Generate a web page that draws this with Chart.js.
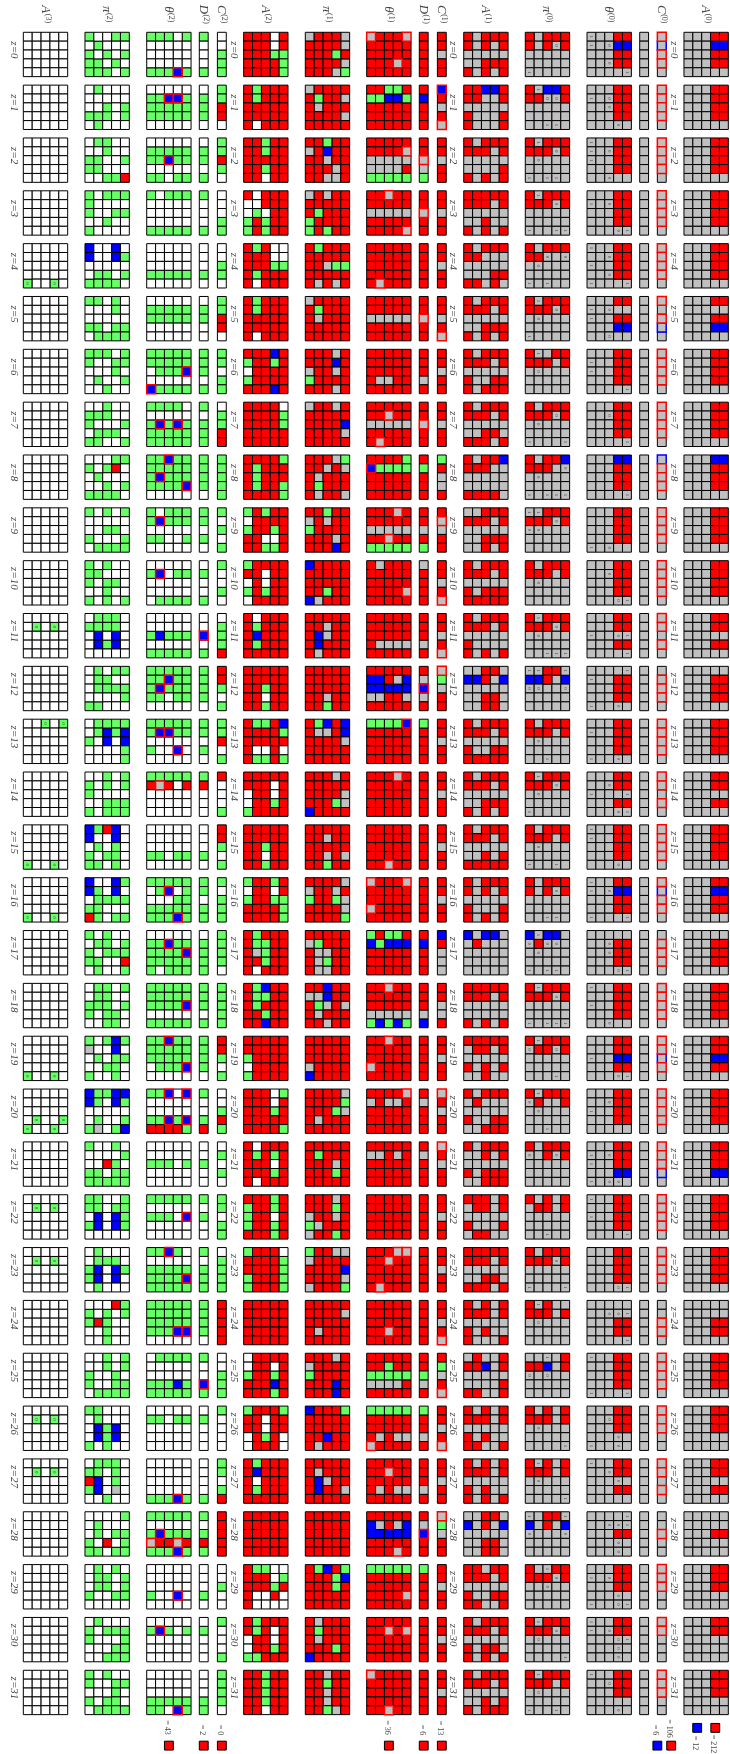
<!DOCTYPE html>
<html>
<head>
<meta charset="utf-8">
<title>z grid</title>
<script src="https://cdn.jsdelivr.net/npm/chart.js@4/dist/chart.umd.min.js"></script>
<style>
  body { margin: 0; background: #fff; }
  canvas { display: block; }
</style>
</head>
<body>
<canvas id="grid" width="730" height="1754"></canvas>
<script>
// w white, g green, r red, s gray, b blue, 0/1 gray with digit, z green with digit
// S and B have a red outline, x is gray with a blue outline
const A3 = [
  "wwwww wwwww wwwww wwwww wwwww","wwwww wwwww wwwww wwwww wwwww","wwwww wwwww wwwww wwwww wwwww","wwwww wwwww wwwww wwwww wwwww",
  "wwwww wwwww wwwww wwwww zwwzw","wwwww wwwww wwwww wwwww wwwww","wwwww wwwww wwwww wwwww wwwww","wwwww wwwww wwwww wwwww wwwww",
  "wwwww wwwww wwwww wwwww wwwww","wwwww wwwww wwwww wwwww wwwww","wwwww wwwww wwwww wwwww wwwww","wwwww wzwzw wwwww wwwww wwwww",
  "wwwww wwwww wwwww wwwww wwwww","wwzwz wwwww wwwww wwwww wwwww","wwwww wwwww wwwww wwwww wwwww","wwwww wwwww wwwww wwwww zwwzw",
  "wwwww wwwww wwwww wwwww zwwzw","wwwww wwwww wwwww wwwww wwwww","wwwww wwwww wwwww wwwww wwwww","wwwww wwwww wwwww wwwww zwwzw",
  "wwwww wwwww wwwww wzwwz zwwzw","wwwww wwwww wwwww wwwww wwwww","wwwww wzwzw wwwww wwwww wwwww","wwwww wzwzw wwwww wwwww wwwww",
  "wwwww wwwww wwwww wwwww wwwww","wwwww wwwww wwwww wwwww wwwww","wwwww wzwzw wwwww wwwww wwwww","wwwww wzwzw wwwww wwwww wwwww",
  "wwwww wwwww wwwww wwwww wwwww","wwwww wwwww wwwww wwwww wwwww","wwwww wwwww wwwww wwwww wwwww","wwwww wwwww wwwww wwwww wwwww"
];
const pi2 = [
  "gwwgg wgwww gwgwg ggwgw gggwg","wgwww wwwww wwgwg gggwg wgwww","wggww wwgww ggwwg ggwww wwggr","gwggg gwwww gwwgg wwgww gwwww",
  "bwwbw bwwbg wwwww wggwg ggggw","ggwgw wwwgw wwwww ggwgg wgggg","gggwg gwwgg wwwgw wgwwg wwgww","wwgww gggww gwwwg wgggw ggwwg",
  "wwwgg gwgrw wgwww wwgwg ggggw","gwgwg wwwww wwggw gwwwg wgggg","gwgww ggwww gwggw wwgww gwgwg","wgggw ggggw wbwbw wbgbw wwwww",
  "wgwgg wggww wgggg wwwwg ggwww","wgggg wgbgb gwbwb wwwwg wwwwg","wwgwg gwgwg gwwww wwggg gwggg","bgrbw bwwbw wgwgw gwggw ggwgw",
  "bwwbg bgwbw wgggg ggwww rgwgg","gwgww wggwg gwggg ggwwr wgwwg","wggwg wggww gggwg gwggw wwggw","gwgbg swwbw wgwgg wwggw gwwgw",
  "bggbb bgwbg wwwww wgwwg gswgb","gwwgw wwwwg wwrgw ggwgg ggggg","ggwwg ggwgg wbwbg gbwbg wwwww","wgwww wgggw gbwbg gbwbw wgwww",
  "wwwrg gwgwg grgww wwgww wwgww","wwgwg wwgwg gwwgw gwwgg wgggg","ggwww wgwww wbgbw wbgbw gwgww","wgggw ggwgw rbwgw gbwsw wwgww",
  "wwwwg wgwww wgwgg gwrwg ggwgg","wgwgw wggwg wggwg gwwgg wwwww","wgwww gwggg gwwwg wwwgg wwggg","gwgww gwwgg wwwgw gwggw wgggg"
];
const theta2 = [
  "gggwg wwwww wwwww wwwww gggBg","wwwww ggBBg ggggg ggggg wwwww","wwwww ggggg ggBgg wwwww ggwgg","gwggg wwwww wwwww wwwww ggggg",
  "wwwww wwwww wwwww ggggg wwwww","wwwww ggggg ggggg wwwww wwwww","ggggg ggggg wgggB wwwww Bgggg","ggggw wwwww gBgBg ggggg ggggg",
  "ggBgg ggggg gBggg ggggB wwwww","gwggg gBggg wwwww ggwwg wwwww","wwwww gBwgg wwwww wwwww wgggg","wwwww wwwww gbggg wwwww ggggg",
  "ggggg ggBgg gBggg ggwgg wwwww","ggggg gBBgg wwwww gwwBw wwwww","ggggg rSrwr wwwww wwwww wwwww","wwwww wwwww wwwww ggwgg wwwww",
  "ggggg wgBwg wwwgg ggggg gggBg","wwwww ggBgg ggggB ggggg gwggg","ggggg ggggg ggggB wwwww ggggg","ggBgg ggggg ggggg wgggB wwwww",
  "ggBwB wwwww wwwww ggBgB rrrrg","wwwww wwwww gggwg wwwww wwwww","ggggg wwwww gggwB wwwww wwwww","ggBgw wwwww ggggg ggggB ggggg",
  "ggggg ggggg ggggg gggBB wwwww","wgggg wwwww wwwww gggbg ggggg","wwwww ggwgg wwwww wwwww wwwww","wwwww wwwww wwwww wwwww gggBg",
  "ggggg wwwww gBggg SrrSr gggBg","wwwww wwwww wwwww gwwBw wwwww","wwwww gBgwg wwwww wwwww wwwww","wwwww wwwww wwwww ggggg ggwBg"
];
const D2 = [
  "gwwwg","wgggw","wggwg","gwwwg","wwwgw","wggww","gggwg","gwggg",
  "ggggw","ggwgw","wgwwg","wwBwg","ggggw","ggwgw","grwww","wwwgw",
  "ggwgg","wgggg","gggwg","ggggw","gwwgr","wwgww","gwgww","gwggg",
  "ggggw","gwwBg","wgwww","wwwwg","gwgrg","wwwgw","wgwww","wwwgg"
];
const C2 = [
  "wwggg","ggrrw","ggrgw","wwwgg","wwggw","ggrrw","ggwgg","wggrr",
  "ggggg","gwgwg","gwwgw","wgggr","rrgwg","ggrwg","rwwwg","rrgwg",
  "gwggg","ggggw","ggggg","rrgwg","wwgrg","wgwgw","ggwgg","wgggg",
  "rrrrr","wwggg","gwwww","ggwgr","rrrrr","wwgww","gwwwg","ggggw"
];
const A2 = [
  "rrrwr rrrwr rrrgg rrrrg rrrrg","rgrrr rgrrr rrrrr rrrrr rwrrr","rrgrr rrgrr rrrrr rrgrr rrwrr","rwrrr wwrrr wgwrr grgrr grgrr",
  "rgrww rrrww rrrgg rgrrr rwrrr","rgrrr rgrrr rrrrr rrrrr rwrrr","rrrbr grrgr wrrrr grrrr rrrbr","rrrrw rrrrg rrrrg rrrrr rrrrr",
  "rrrrg rgrrr rgrrr rgrrg rrrrg","grgrr wrrrr grrgr rrwwr rrggr","grrrr rrwrr wrwrr grgrr wrrrr","rwrrr rgrrr rbrrr rgrrr rrrrr",
  "rrrrr rrrrr rrgrr rrwrr rrgrr","rggrb rrrrg rrrrr rwwrw rggrg","rrrrr rrrwr wrrwr wrrgr grrrr","rrrrr rrrrr rrgrr rrwrr rrgrr",
  "grrgr wrrwr grrgg rrrrg rrrrg","rgrrr rggrr rsgrr rrgrr rwrrr","rgbrr rggrr rgrrr rrgrr rrbrr","rrrrr rrrrr grrrr wrrrr grrrr",
  "rrrwg rrrwr rrrgr rrrrr rrrrg","rwrrr rgrgr rrrwr rrrgr rwrrr","rrrgr grrgr grrwr grrgr rrrgr","grrrw rrrrg rrrrg grrrg grrrg",
  "rrrrr rrrrr rrrrr rrrrr rrrrr","wrrrr wrrwr grrgr rrrbr rrrgr","grrrg rrwrr rrwrr wrgrw wrrrw","rgrrr rbrrr rwrrr rgrrr rrrrr",
  "rrrrr rrrrr rrrrr rrrrr rrrrr","rggww rrrwg rrrgr rwwrw rwwww","rgrrr rgrwr wrrwr wrrgr ggrrr","rrgrr rrgrr rrgrr rrgrr rrwrr"
];
const pi1 = [
  "srrrs rrrrs rrrgr rrrrs rrrsg","srrrr rgrrs rsrrr rrrrs rrrrr","rrgrr srbrr rrsrr rrrsr rrssr","srsrr rrrrr rgrrr grrrr grgrr",
  "rgrrr rrrrr rrsgg rrrrr rsrsr","srrrr rgrrr rsrrr rrrrr rrrrr","rrrsr rrrbr srrsr grrrr rrrsr","srrsr rrrrr rrrrb rrrrs rrrrr",
  "rrrsg rrsrs rsrrr rgrrr rsrrs","rrgrr srsrr grrrr rrrsr rrrbr","brrrr rrrrr rrrrr rrgrr bsrrr","rrrrr rrsrr rbsrr rbrrr rsrrr",
  "rrrrr rrrrr rrrrr rrsrr rrgrr","rgbrb rssrb rrrrs rrrrr rrrrr","rrrsr rrrrr rrrrs rrrgs brrrr","rrrrr rrsrr rrrrr rrsrs rrgrr",
  "rrrrs srrsr grrgs rrrrs rrrrg","rrrrr sgrrr rssrr rsgrr rssrr","rrbrr ssbrr rgsrs rsrrr rrsrr","rrrrr rrrrr rrrrr srrrr brrrr",
  "rrrrs rrrrg rrrgs rsrrr rrrrr","rrrrr rgrrr rrrsr rrrgr rrrrr","rrrsr rrrgr srrsr gsrrr srrgr","grrss srrrr rrrrb rrrrs srrrg",
  "rrrrr rrrrs rrrrr rsrrr rrrrr","rrrsr srrrr grrrr rrrbr rrrbr","brrrg rrrrr rrrrr rrbrr rsrrr","rrrrr rsrrr rbsrr rbrrs rrrrr",
  "rrrrr rrrrr rrrrr rrrrr rrrrr","rgbrg rrrgb rrrgr rrrrr rrrrr","rsrrr rgrrr rsrrr rrrgr brrrr","rrsrr rrgrr rrsrr rrsrr rrgsr"
];
const theta1 = [
  "SrrrS rrrrr rrrrr rrrSr rrrrr","rrggr ggbbg rrrrr rrrrr rrrrr","rrrrr rrrrS sssss ssssr ggggg","rrSrr rrrrr sssss rrrrr rrrrS",
  "rrrrr rrrrr rrrrr rrrrr rSrrr","rrrrr rrrrr sssss rrrrr rrrrr","rrrrr rrrrr rrrrr rssrr rrrrr","rrrrr rrSrr sssss rrrrr rSrrr",
  "rrrrg Bgggg rrrrr rrrrr rrrrr","rrrSr rrrrr sssss rrSrr ggggg","rsrrr rrrrr rrrrr rrrrS rrrrr","rrrrr rrrrr rrrrr rssss rrrrr",
  "rrrrr bbrsb bbbbb ssrrs rrrrr","ggggB rrrrr rrrrr rrrrr rrrrr","rrrSr rrrrr rrrrr rrrrr rrrrr","rrrrr rrrrr rrrrr rrrrr rrSrr",
  "SrrrS rrrrr rrrrr Srrrr rrrrr","grggr bgbbb rrrrr rrrrr rrrrr","rrSrr rrrrr rrrrr sssss gbgbg","rrSrr rrrrr rrrrr Srrrr rrrrr",
  "rrrrS srssr rrrrr rrrrr rrrrr","rrrrr ssrsr rrrrr rrrrr rrrrr","rrrrr rrrrr rrrrr rrrrr rrrrr","rrrSS rrSrr rrrrr rrrrr rSrrr",
  "rrrrr rrrrr rrrrr rrSrr rrrrr","rrrrr rrgrr ggggg ssssr rrrrr","ggggg rrrrr rrrrr rsrss Srrrr","rrrrr rrSrr rrrrr rsrss rrrrr",
  "rrrrr bsrsb bbbbb rrrrr rrrSr","ggggg rrrrr rrrrr rrrrS rrrrr","rrrrr rrSrS rrrrr rrrrr rrrrr","Srrrr rrrrr rrrrr rrrrr rrSrr"
];
const D1 = [
  "rrrrr","rbrrr","rrSsg","rrSrr","rrrrr","rrSrr","rrrsr","rrSrr",
  "rgrrr","rrsrg","srrrr","rrrsr","rsBsr","grrrr","rrrrr","rrrrr",
  "rrrrr","rbrrr","rrrsb","rrrrr","rsrrr","rsrrr","rrrrr","rrrrr",
  "rrrrr","rrgsr","grrsr","rrrsr","rsBrr","grrrr","rrrrr","rrrrr"
];
const C1 = [
  "rrsrr","BrsrS","rrsrr","rrsrr","rrsrr","rrsrS","rrsrr","rrsrr",
  "grssr","rSsrr","rrsrS","rrsrS","Sgsrr","rrsrr","rrsrr","rrsrr",
  "rrsrr","brsss","rrssr","rrsrr","Srsrr","Srsrr","rrsrr","rrsrr",
  "rrsrS","rgsrS","rrsrS","rrsrr","Sgsrr","rrsrr","rrsrr","rrsrr"
];
const A1 = [
  "rsrrr rsrsr sssss ssrrr rsrsr","rrbbr rrssr sssss rsssr rsssr","rsrrr rrrsr sssss ssssr rsrsr","rrrrr rrrsr sssss ssrss rsrsr",
  "rsrrr rrsss sssss sssrr rrsrs","rsrrr rrrsr sssss ssrrr rsrsr","rsrrr rrrsr sssss rssrr rsrrr","rsrrr rrrsr sssss ssrrs rrrsr",
  "rsrrb rrrss sssss sssss rrrrs","ssrrr rrrsr sssss ssrrr ssrsr","rsrrr rrrsr sssss rsrrr rrrrr","rsrrr rrrsr sssss rssss rsrsr",
  "ssrrs bbrsb sssss ssrrs ssrrs","rsrrr rrrsr sssss rssrr rrrrr","rsrrr rrrsr sssss ssrrr rsrsr","rsrrr rrrsr sssss ssrsr rrrrr",
  "rsrrr rsrsr sssss rsssr rsrsr","bsbbs srsss sssss sssss sssss","rrrrr rrrsr sssss sssss rsrsr","rrrrr srrsr sssss rsrsr ssrss",
  "rsrrr srsss sssss rssrr ssrrr","rsrrr ssrsr sssss rsrrr ssrrr","rrrsr srrsr sssss rsssr srrss","rrrrr rrrsr sssss ssrrs rrrsr",
  "rsrsr rrrsr sssss rsrss rsssr","srssr rrbsr sssss ssssr rrssr","rsrsr rrrsr sssss rsrss rrssr","rsrsr rrrsr sssss rsrss rsrsr",
  "ssrrs bsrsb sssss ssrrs ssrrs","rrsrr rrrsr sssss rssrr rrssr","rsrrr rrrsr sssss rsrrs rsrsr","rsrrr rrrsr sssss ssrsr rsrrr"
];
const pi0 = [
  "rsrrr rsr0r sssss sssss 1ssss","r1bbr rr00r sssss sssss ss11s","r1rrr rrr0r s0sss sssss 1s11s","r1rrr rrr0r sssss sssss 1ss11",
  "rsrrr rr0s0 s0sss sssss 1s1ss","r1rrr rrr0r s0sss sssss 1ssss","r1srr rrrsr s0sss sssss sssss","rsrrr rrr0r s0sss sssss 1sss1",
  "rsrrb rrrs0 s0sss sssss 1s111","11rrr rrr0r 00sss sssss sssss","rsrrr rrrsr s0sss sssss sssss","r1rrr rrr0r s0sss sssss ss111",
  "11rr1 bbrsb 00ss0 sssss sssss","rsrrr rrrsr s0sss sssss ss1ss","r1rrr rrr0r s0sss sssss 1ssss","rsrrr rrrsr s0sss sssss 1ss1s",
  "rsrrr rsr0r sssss sssss ss11s","b1bbs 0r00s s0sss sssss 1s11s","r1rrr rrr0r sssss sssss 1s111","r1rrr 0rr0r sssss sssss sss1s",
  "r1rrr 0rssr s0sss sssss ss1ss","rsrrr 0sr0r sssss sssss sssss","rsrsr srrsr sssss sssss ss1ss","rsrrr rrr0r sssss sssss 1sss1",
  "r1rss rrrsr s0sss sssss sssss","ss1sr rrbsr 0s0ss sssss sssss","rsrsr rrrsr s0sss sssss ssss1","r1rsr rrrsr s0sss sssss ssss1",
  "1srr1 bsrsb 0sss0 sssss sssss","rs1rr rrr0r ss0ss sssss sssss","r1rrr rrr0r s0sss sssss ssss1","r1rrr rrrsr s0sss sssss 1ss1s"
];
const theta0 = [
  "1ssrr 1s0bb sssrr ss0rr ssss1","sssrr 1s0rr ss0rr sssrr sss0s","1ssrr 1s0rr 1ssrr sssrr ss0ss","sssrr 1s0rr sssrr sssrr sss01",
  "1ssrr ss0rr 1ssrr ss0rr 1sss1","sssrr 1s0ss 1ssrr sssbb ss0ss","sssrr 1ssrr 1ssrr sssrr ssss1","sssrr ss0rr sssrr sssrr ssss1",
  "sssbb sssrr sssrr sssrr ssss1","sssrr sssrr sssrr sssrr 1s0ss","sssrr ss0rr sssrr sssrr sss01","sssrr sssrr 1ss01 sssrr ssss1",
  "ssss1 1ssrr sssrr sssrr 1ss0s","sssrr 1ssrr sssrr sssrr 1ss0s","sssrr ss0rr 1sss1 sssrr sss01","1ssrr 1ssrr sssrr sssrr sss0s",
  "1ssrr 1s0bb sssrr sssrr 1sss1","sssss ss0rr ss0rr sssrr sss01","1ssrr sssrr 1ssrr sssrr ss0ss","sssrr sssrr 1ssbb sssrr sss01",
  "sssrr ss0rr 1ssrr sssrr sssss","sssrr 1s0rr 1ssrr sssbb 1s00s","1ssrr sssrr 1ssrr sssrr ssss1","sssrr sssrr sssrr sssrr sss01",
  "sssss ss001 sssrr sssrr ssss1","1ssrr sssrr sssrr sssrr 1sss1","sssrr ss0rr sssrr sss0s 1ss0s","1ssrr ss0rr sss0s sssrr sssss",
  "ssss1 ss001 sssrr sss0s sss0s","sssrr 1s0rr sssrr sss0s 1ss01","1ssrr 1s0rr sss01 sss0s sss0s","1ssrr ss0rr sssrr sssss sss0s"
];
const D0 = [
  "sssss","sssss","sssss","sssss","sssss","sssss","sssss","sssss",
  "sssss","sssss","sssss","sssss","sssss","sssss","sssss","sssss",
  "sssss","sssss","sssss","sssss","sssss","sssss","sssss","sssss",
  "sssss","sssss","sssss","sssss","sssss","sssss","sssss","sssss"
];
const C0 = [
  "SxSSs","SSSSs","SSSSs","SSSSs","SSSSs","SsSxs","SSSSs","SSSSs",
  "xSSSs","SSSSs","SSSSs","SSsSs","sSSSs","SSSSs","SSsSs","SSSSs",
  "SxSSs","sSSSs","SSSSs","SSxSs","SSSSs","SSSxs","SSSSs","SSSSs",
  "ssSSs","SSSSs","SSSss","SSsSs","ssSss","SSSss","SSsss","SSSss"
];
const A0 = [
  "sssrr sssbb sssrr sssrr sssss","sssrr sssrr sssrr sssrr sssss","sssrr sssrr sssrr sssrr sssss","sssrr sssrr sssrr sssrr sssss",
  "sssrr sssrr sssrr sssrr sssss","sssrr sssss sssrr sssbb sssss","sssrr sssrr sssrr sssrr sssss","sssrr sssrr sssrr sssrr sssss",
  "sssbb sssrr sssrr sssrr sssss","sssrr sssrr sssrr sssrr sssss","sssrr sssrr sssrr sssrr sssss","sssrr sssrr sssss sssrr sssss",
  "sssss sssrr sssrr sssrr sssss","sssrr sssrr sssrr sssrr sssss","sssrr sssrr sssss sssrr sssss","sssrr sssrr sssrr sssrr sssss",
  "sssrr sssbb sssrr sssrr sssss","sssss sssrr sssrr sssrr sssss","sssrr sssrr sssrr sssrr sssss","sssrr sssrr sssbb sssrr sssss",
  "sssrr sssrr sssrr sssrr sssss","sssrr sssrr sssrr sssbb sssss","sssrr sssrr sssrr sssrr sssss","sssrr sssrr sssrr sssrr sssss",
  "sssss sssss sssrr sssrr sssss","sssrr sssrr sssrr sssrr sssss","sssrr sssrr sssrr sssss sssss","sssrr sssrr sssss sssrr sssss",
  "sssss sssss sssrr sssss sssss","sssrr sssrr sssrr sssss sssss","sssrr sssrr sssss sssss sssss","sssrr sssrr sssrr sssss sssss"
];

const panelGrids = [A3, pi2, theta2, D2, C2, A2, pi1, theta1, D1, C1, A1, pi0, theta0, D0, C0, A0];
const panelNames = ["A", "π", "θ", "D", "C", "A", "π", "θ", "D", "C", "A", "π", "θ", "", "C", "A"];
const panelSups = ["(3)", "(2)", "(2)", "(2)", "(2)", "(2)", "(1)", "(1)", "(1)", "(1)", "(1)", "(0)", "(0)", "", "(0)", "(0)"];

const legendPanels = [2, 3, 4, 7, 8, 9, 14, 14, 15, 15];
const legendTexts = ["= 43", "= 2", "= 0", "= 36", "= 6", "= 13", "= 6", "= 106", "= 12", "= 212"];
const legendKinds = ["r", "r", "r", "r", "r", "r", "b", "r", "b", "r"];

// layout, in cells (one cell = 8.87 px)
const CELL = 8.87;
const panelX = [2.63, 9.58, 16.54, 22.47, 24.51, 27.47, 34.42, 41.34, 47.27, 49.31, 52.28, 59.22, 66.18, 72.12, 74.11, 77.11];
const zLabelX = [1.58, 26.38, 51.07, 75.98];
const Y0 = 3.64, ZSTEP = 5.957;
const legendDx = [2.5, 0.5, 0.5, 2.5, 0.5, 0.5, 0, 1.56, 1.49, 3.53];
const legendY = [196.8, 196.8, 196.8, 196.8, 196.8, 196.8, 196.8, 196.8, 194.8, 194.8];
const legendTextY = [1727.5, 1730, 1730, 1727.5, 1730, 1728, 1730, 1728.5, 1743, 1744];

const fills = { w: "#ffffff", g: "#66ff66", r: "#ff0000", s: "#c0c0c0", b: "#0000ff", S: "#c0c0c0", B: "#0000ff", x: "#c0c0c0" };
const outlines = { S: "#ff0000", B: "#ff0000", x: "#0000ff" };

// sort all the cells by kind, digits go on top as text afterwards
const buckets = {};
Object.keys(fills).forEach(k => buckets[k] = []);
const digits = [];
panelGrids.forEach((grid, p) => {
  grid.forEach((cells, z) => {
    const rows = cells.split(" ");
    const narrow = rows.length === 1;
    rows.forEach((row, r) => {
      [...row].forEach((ch, c) => {
        const pt = {
          x: panelX[p] + (narrow ? 0 : c) + 0.5,
          y: Y0 + ZSTEP * z + (narrow ? c : r) + 0.5
        };
        let kind = ch;
        if (ch === "0" || ch === "1") { kind = "s"; digits.push({ ...pt, t: ch }); }
        if (ch === "z") { kind = "g"; digits.push({ ...pt, t: "0" }); }
        buckets[kind].push(pt);
      });
    });
  });
});
legendPanels.forEach((p, i) => {
  buckets[legendKinds[i]].push({ x: panelX[p] + legendDx[i], y: legendY[i] });
});

const datasets = Object.keys(fills).map(k => ({
  data: buckets[k],
  pointStyle: "rect",
  pointRadius: CELL / Math.SQRT2,
  pointHoverRadius: CELL / Math.SQRT2,
  pointBackgroundColor: fills[k],
  pointBorderColor: outlines[k] || "#000000",
  pointBorderWidth: outlines[k] ? 1.5 : 1,
  clip: false,
  order: outlines[k] ? 0 : 1
}));

function turned(ctx, x, y, draw) {
  ctx.save();
  ctx.translate(x, y);
  ctx.rotate(Math.PI / 2);
  draw();
  ctx.restore();
}

const labelsPlugin = {
  id: "labels",
  afterDatasetsDraw(chart) {
    const ctx = chart.ctx, sx = chart.scales.x, sy = chart.scales.y;
    ctx.save();
    ctx.fillStyle = "#444444";
    ctx.textBaseline = "middle";
    ctx.textAlign = "center";

    // digits inside the cells
    ctx.font = "5px 'Liberation Serif'";
    digits.forEach(d => {
      turned(ctx, sx.getPixelForValue(d.x), sy.getPixelForValue(d.y), () => ctx.fillText(d.t, 0, 0));
    });

    // panel titles
    ctx.textAlign = "left";
    ctx.textBaseline = "alphabetic";
    panelNames.forEach((name, p) => {
      if (!name) return;
      const wide = panelGrids[p][0].length > 5;
      const cx = sx.getPixelForValue(panelX[p] + (wide ? 2.5 : 0.5));
      turned(ctx, cx, 14, () => {
        ctx.font = "italic 13px 'Liberation Serif'";
        const w = ctx.measureText(name).width;
        ctx.font = "8px 'Liberation Serif'";
        const w2 = ctx.measureText(panelSups[p]).width;
        const left = -(w + w2) / 2;
        ctx.font = "italic 13px 'Liberation Serif'";
        ctx.fillText(name, left, 4);
        ctx.font = "8px 'Liberation Serif'";
        ctx.fillText(panelSups[p], left + w + 0.5, 0);
      });
    });

    // z labels on the left of some panels
    ctx.textAlign = "center";
    ctx.textBaseline = "middle";
    ctx.font = "italic 11px 'Liberation Serif'";
    zLabelX.forEach(x => {
      A0.forEach((_, z) => {
        const y = sy.getPixelForValue(Y0 + ZSTEP * z + 2.5) - 4.5;
        turned(ctx, sx.getPixelForValue(x), y, () => ctx.fillText("z=" + z, 0, 0));
      });
    });

    // legend counts
    ctx.font = "8px 'Liberation Serif'";
    legendTexts.forEach((t, i) => {
      const x = sx.getPixelForValue(panelX[legendPanels[i]] + legendDx[i]) - 2;
      turned(ctx, x, legendTextY[i], () => ctx.fillText(t, 0, 0));
    });
    ctx.restore();
  }
};

new Chart(document.getElementById("grid"), {
  type: "scatter",
  data: { datasets },
  options: {
    responsive: false,
    animation: false,
    events: [],
    layout: { padding: 0, autoPadding: false },
    plugins: { legend: { display: false }, tooltip: { enabled: false } },
    scales: {
      x: { type: "linear", display: false, min: 0, max: 730 / CELL },
      y: { type: "linear", display: false, reverse: true, min: 0, max: 1754 / CELL }
    }
  },
  plugins: [labelsPlugin]
});
</script>
</body>
</html>
